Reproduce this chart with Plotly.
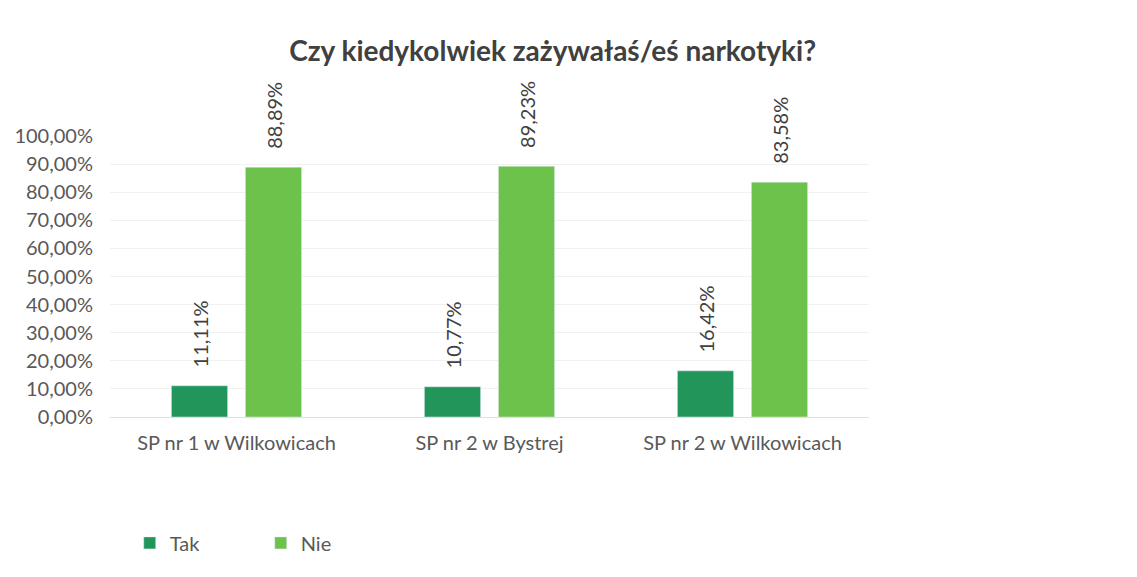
import plotly.graph_objects as go

# data
schools = ["SP nr 1 w Wilkowicach", "SP nr 2 w Bystrej", "SP nr 2 w Wilkowicach"]
tak = [0.1111, 0.1077, 0.1642]
nie = [0.8889, 0.8923, 0.8358]
tick_vals = [0, 0.1, 0.2, 0.3, 0.4, 0.5, 0.6, 0.7, 0.8, 0.9, 1.0]

font_name = "Lato, Open Sans, sans-serif"
grey = "#595959"

fig = go.Figure()
fig.add_trace(go.Bar(x=schools, y=tak, name="Tak", marker_color="#22955a",
                     texttemplate="\u00a0\u00a0\u00a0%{y:.2%}", textposition="outside",
                     textangle=-90, cliponaxis=False, constraintext="none",
                     textfont=dict(size=20, color="#404040", family=font_name)))
fig.add_trace(go.Bar(x=schools, y=nie, name="Nie", marker_color="#6cc24a",
                     texttemplate="\u00a0\u00a0\u00a0%{y:.2%}", textposition="outside",
                     textangle=-90, cliponaxis=False, constraintext="none",
                     textfont=dict(size=20, color="#404040", family=font_name)))

# page body adds ~8px offset, so margins are shifted
fig.update_layout(
    width=1137, height=577,
    separators=",.",
    barmode="group", bargap=0.415, bargroupgap=0.24,
    plot_bgcolor="white", paper_bgcolor="white",
    margin=dict(l=102, r=276, t=128, b=168, autoexpand=False),
    title=dict(text="<b>Czy kiedykolwiek zażywałaś/eś narkotyki?</b>", x=0.479, xanchor="center",
               y=0.925, yanchor="middle", font=dict(size=28, color="#404040", family=font_name)),
    font=dict(family=font_name, color=grey),
    legend=dict(orientation="h", x=0.026, xanchor="left", y=-0.448, yanchor="middle",
                entrywidth=86, entrywidthmode="pixels",
                font=dict(size=20, color=grey)),
)
fig.update_yaxes(range=[0, 1], tickvals=tick_vals, tickformat=".2%", automargin=False,
                 tickfont=dict(size=20, color=grey), ticklabelstandoff=16,
                 showgrid=True, gridcolor="#f1f1f1", zeroline=False)
fig.update_xaxes(tickfont=dict(size=20, color=grey), automargin=False, ticklabelstandoff=8,
                 showline=True, linecolor="#e0e0e0")

fig.write_html("out.html")
